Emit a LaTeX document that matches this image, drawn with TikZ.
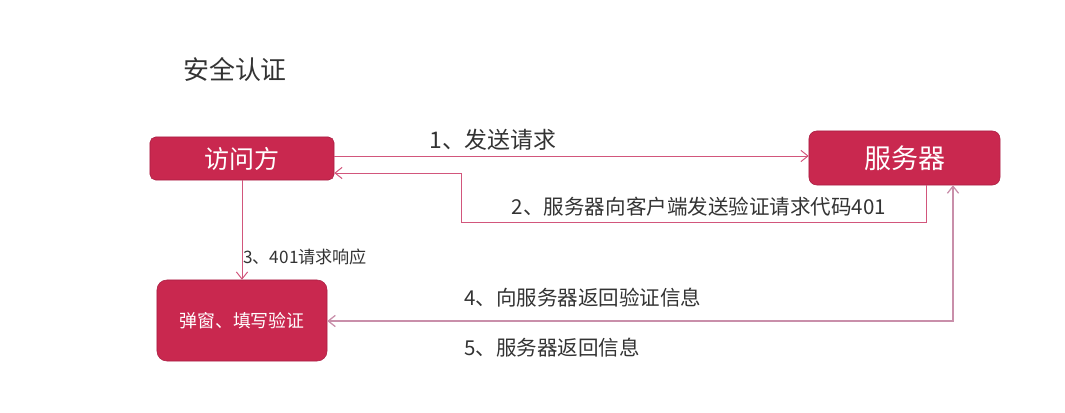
\documentclass[tikz,border=0pt]{standalone}
\usepackage{fontspec}
\setmainfont{Noto Sans CJK SC}
\usepackage{tikz}
\usetikzlibrary{arrows.meta,positioning,calc}
\usepackage{xcolor}
\definecolor{Crimson}{HTML}{C9284F}
\definecolor{CrimsonEdge}{HTML}{A91E42}
\definecolor{LinkRed}{HTML}{D2567C}
\definecolor{LinkPink}{HTML}{C98FAA}
\definecolor{TextGray}{HTML}{333333}

\begin{document}
\begin{tikzpicture}[x=0.025cm,y=-0.025cm,>={Straight Barb[length=5pt,width=8pt]},
  party/.style={draw=CrimsonEdge,fill=Crimson,text=white,inner sep=0pt},
  link/.style={->,LinkRed,line width=0.7pt},
  backlink/.style={<->,LinkPink,line width=0.9pt},
  steplabel/.style={text=TextGray,inner sep=0pt},
  every node/.style={font=\fontsize{14.6pt}{16pt}\selectfont}]
  \useasboundingbox (0,0) rectangle (1065,413);
  % title
  \node[steplabel,font=\fontsize{18.4pt}{20pt}\selectfont] (title) at (235,70) {安全认证};
  % the three parties
  \node[party,minimum width=4.6cm,minimum height=1.075cm,rounded corners=4pt,
    font=\fontsize{17.8pt}{19pt}\selectfont] (visitor) at (242,158.5) {访问方};
  \node[party,minimum width=4.775cm,minimum height=1.35cm,rounded corners=5.5pt,
    font=\fontsize{19.2pt}{21pt}\selectfont] (server) at (904.5,158) {服务器};
  \node[party,minimum width=4.25cm,minimum height=2.025cm,rounded corners=7pt,
    font=\fontsize{12.7pt}{14pt}\selectfont] (popup) at (242,320.5) {弹窗、填写验证};
  % request / challenge
  \draw[link] (visitor.east |- 0,156) -- (server.west |- 0,156);
  \draw[link] (server.south -| 926,0) |- (461,222) |- (visitor.east |- 0,173);
  \draw[link] (visitor) -- (popup);
  \draw[backlink] (popup.east |- 0,321) -| (server.south -| 953,0);
  % step labels
  \node[steplabel,font=\fontsize{16.3pt}{18pt}\selectfont] (s1) at (493,140) {1、发送请求};
  \node[steplabel] (s2) at (699,207) {2、服务器向客户端发送验证请求代码401};
  \node[steplabel,anchor=west,font=\fontsize{12.2pt}{14pt}\selectfont] (s3) at (243,257) {3、401请求响应};
  \node[steplabel,anchor=west] (s4) at (464,298) {4、向服务器返回验证信息};
  \node[steplabel,anchor=west] (s5) at (464,348) {5、服务器返回信息};
\end{tikzpicture}
\end{document}
